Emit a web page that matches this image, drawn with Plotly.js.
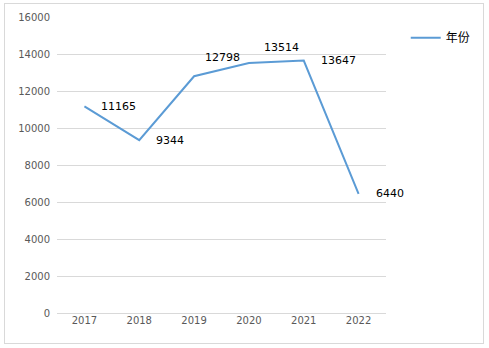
<!DOCTYPE html>
<html><head><meta charset="utf-8">
<script src="https://cdn.plot.ly/plotly-3.0.1.min.js"></script>
<style>
html,body{margin:0;padding:0;background:#fff;}
#wrap{position:relative;width:489px;height:348px;}
#frame{position:absolute;left:4px;top:3px;width:478px;height:339px;border:1px solid #d9d9d9;pointer-events:none;}
#chart{position:absolute;left:0;top:0;width:489px;height:348px;}
</style></head>
<body><div id="wrap"><div id="chart"></div><div id="frame"></div></div>
<script>
const years = ['2017','2018','2019','2020','2021','2022'];
const values = [11165, 9344, 12798, 13514, 13647, 6440];
const seriesName = '年份';
const yTicks = [0,2000,4000,6000,8000,10000,12000,14000,16000];
const labelShiftX = [15,15,9,13,15,15];
const labelShiftY = [0,0,19,15,0,0];

const annotations = values.map((v,i)=>({
  x: i, y: v, xref:'x', yref:'y', text: String(v),
  showarrow:false, xanchor:'left', yanchor:'middle',
  xshift: labelShiftX[i], yshift: labelShiftY[i],
  font:{family:'DejaVu Sans, sans-serif', size:11, color:'#000'}
}));

Plotly.newPlot('chart',[{
  x: years, y: values, type:'scatter', mode:'lines', name: seriesName,
  line:{color:'#5B9BD5', width:2}
}],{
  width:489, height:348,
  margin:{l:57, r:103, t:17, b:35},
  paper_bgcolor:'#fff', plot_bgcolor:'#fff',
  showlegend:true,
  legend:{x:1.06, y:0.93, xanchor:'left', yanchor:'middle', font:{family:'Noto Sans CJK SC, sans-serif', size:12, color:'#000'}},
  xaxis:{type:'category', range:[-0.5,5.5], showgrid:false, zeroline:false, showline:false,
    ticks:'', tickfont:{family:'DejaVu Sans, sans-serif', size:10, color:'#595959'}},
  yaxis:{range:[0,16000], tickvals:yTicks, ticktext:yTicks.map(String), showgrid:true, gridcolor:'#d9d9d9', gridwidth:1,
    zeroline:true, zerolinecolor:'#d9d9d9', zerolinewidth:1, showline:false, ticks:'', ticklabelstandoff:6,
    tickfont:{family:'DejaVu Sans, sans-serif', size:10, color:'#595959'}},
  annotations: annotations
},{displayModeBar:false});
</script></body></html>
